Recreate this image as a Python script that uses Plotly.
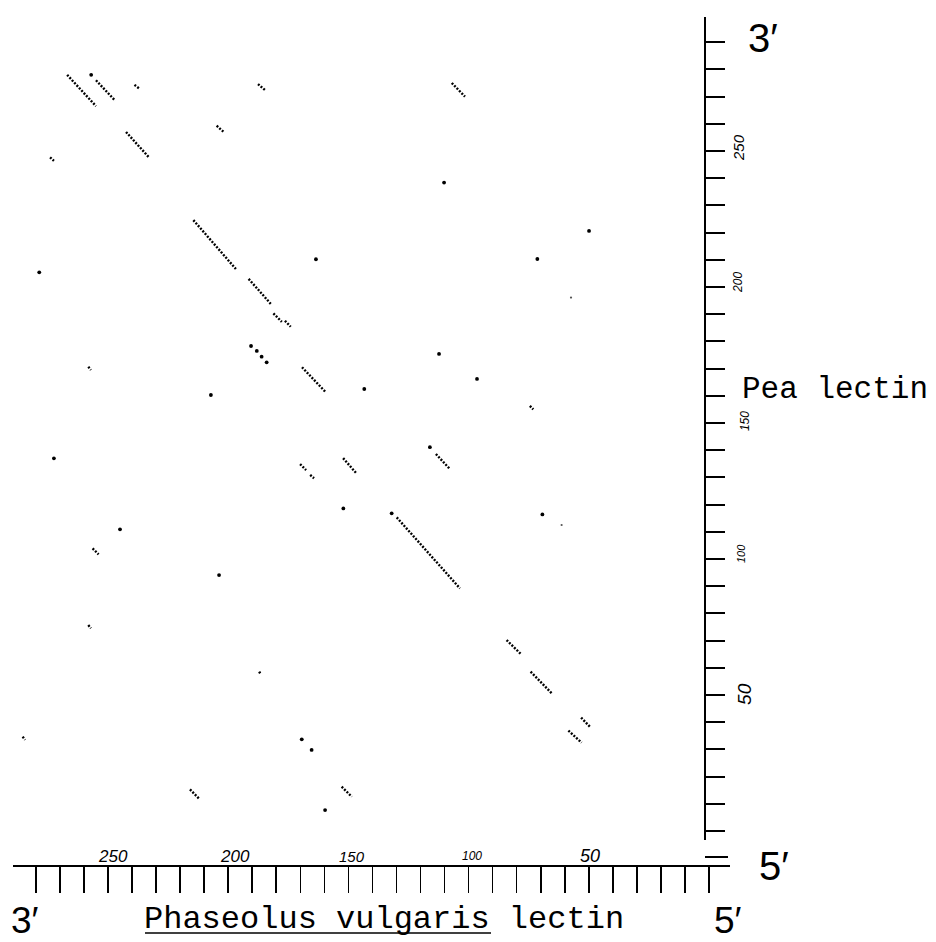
import plotly.graph_objects as go

# ---------------- data (residue numbers) ----------------
# x : Phaseolus vulgaris lectin residue, y : pea lectin residue
# diagonal runs of matching residues: start (x0, y0) -> end (x1, y1)
seg_x0 = [267.0, 255.0, 239.0, 187.6, 107.0, 204.8, 242.5, 274.1, 214.5, 191.5,
          181.2, 176.4, 169.3, 74.5, 113.6, 152.2, 170.1, 165.9, 129.9, 84.2,
          74.2, 53.2, 58.5, 258.2, 256.4, 258.2, 187.1, 285.5, 215.9, 152.8]
seg_y0 = [278.0, 276.0, 274.3, 274.6, 275.0, 259.3, 257.0, 247.7, 224.6, 203.0,
          190.3, 187.6, 170.5, 156.3, 138.6, 137.1, 134.9, 130.9, 115.3, 70.2,
          58.6, 41.7, 36.9, 170.7, 103.9, 75.7, 58.6, 34.7, 15.3, 16.3]
seg_x1 = [255.0, 247.0, 237.0, 184.7, 101.5, 202.0, 233.0, 272.5, 196.8, 182.3,
          177.7, 174.0, 159.4, 73.1, 107.7, 146.7, 167.6, 164.3, 103.6, 78.3,
          65.2, 49.5, 53.0, 257.1, 253.9, 257.1, 186.5, 284.5, 212.0, 148.6]
seg_y1 = [266.5, 268.5, 273.0, 272.4, 270.0, 257.1, 247.7, 246.4, 206.6, 193.8,
          187.2, 185.4, 161.3, 155.0, 133.0, 131.5, 132.7, 129.7, 89.2, 65.1,
          50.4, 38.3, 32.5, 169.5, 101.7, 74.5, 57.6, 33.5, 11.8, 12.6]

# isolated matching residues
dot_x = [257.0, 163.5, 278.6, 190.5, 188.1, 186.1, 184.0, 207.2, 143.4, 112.3,
         96.5, 116.1, 152.1, 132.0, 69.3, 169.4, 165.3, 272.5, 245.0, 203.8,
         159.7, 110.2, 49.9, 71.4]
dot_y = [278.0, 210.2, 205.4, 178.3, 176.5, 174.4, 172.3, 160.3, 162.5, 175.4,
         166.2, 141.1, 118.6, 116.8, 116.4, 33.7, 29.8, 137.0, 110.9, 94.1,
         7.7, 238.4, 220.6, 210.3]
faint_x = [61.3, 57.4]
faint_y = [112.5, 196.1]

# axis ticks and labels
x_ticks = [0, 10, 20, 30, 40, 50, 60, 70, 80, 90, 100, 110, 120, 130, 140, 150,
           160, 170, 180, 190, 200, 210, 220, 230, 240, 250, 260, 270, 280]
y_ticks = [0, 10, 20, 30, 40, 50, 60, 70, 80, 90, 100, 110, 120, 130, 140, 150,
           160, 170, 180, 190, 200, 210, 220, 230, 240, 250, 260, 270, 280, 290]
x_label_text = ["250", "200", "150", "100", "50"]
x_label_pos = [247.9, 197.2, 148.5, 98.6, 49.5]
x_label_size = [17, 17, 15, 12, 18]
y_label_text = ["250", "200", "150", "100", "50"]
y_label_pos = [251.1, 201.5, 150.7, 101.8, 50.4]
y_label_size = [15, 12, 12, 11, 19]
y_label_xpos = [738, 738, 745, 741, 745]

W, H = 936, 942

# build segment polyline with gaps
lx, ly = [], []
for a, b, c, d in zip(seg_x0, seg_y0, seg_x1, seg_y1):
    lx += [a, c, None]
    ly += [b, d, None]

fig = go.Figure()
fig.add_trace(go.Scatter(x=lx, y=ly, mode="lines",
                         line=dict(color="black", width=2.4, dash="2px,1.5px"),
                         hoverinfo="skip"))
fig.add_trace(go.Scatter(x=dot_x, y=dot_y, mode="markers",
                         marker=dict(color="black", size=3.8, line=dict(width=0)),
                         hoverinfo="skip"))
fig.add_trace(go.Scatter(x=faint_x, y=faint_y, mode="markers",
                         marker=dict(color="#555", size=2.2, line=dict(width=0)),
                         hoverinfo="skip"))

# pixel layout helpers (layout only)
def px(xp):
    return xp / W

def py(yp):
    return (H - yp) / H

fig.update_layout(
    width=W, height=H,
    margin=dict(l=0, r=0, t=0, b=0),
    paper_bgcolor="white", plot_bgcolor="white",
    showlegend=False,
    xaxis=dict(domain=[px(13), px(730)],
               range=[(709 - 13) / 2.404, (709 - 730) / 2.404],
               anchor="free", position=py(866), side="bottom",
               showline=True, linecolor="black", linewidth=2,
               ticks="outside", ticklen=26, tickwidth=1.6, tickcolor="black",
               tickvals=x_ticks, showticklabels=False,
               showgrid=False, zeroline=False, fixedrange=True),
    yaxis=dict(domain=[py(840), py(17)],
               range=[(831 - 840) / 2.72, (831 - 17) / 2.72],
               anchor="free", position=px(705), side="right",
               showline=True, linecolor="black", linewidth=2,
               ticks="outside", ticklen=19, tickwidth=2, tickcolor="black",
               tickvals=y_ticks, showticklabels=False,
               showgrid=False, zeroline=False, fixedrange=True),
)

shapes = [
    # "=" mark at the origin
    dict(type="line", xref="paper", yref="paper", x0=px(705), x1=px(728),
         y0=py(857), y1=py(857), line=dict(color="black", width=2)),
    # underline of the species name
    dict(type="line", xref="paper", yref="paper", x0=px(145), x1=px(491),
         y0=py(933), y1=py(933), line=dict(color="black", width=1.6)),
]
fig.update_layout(shapes=shapes)

ann = []
big = "Liberation Sans Narrow, Liberation Sans, Arial, sans-serif"
mono = "Liberation Mono, Courier New, monospace"
ann.append(dict(text="3\u2032", x=px(746), y=py(38), xref="paper", yref="paper",
                xanchor="left", yanchor="middle", showarrow=False,
                font=dict(family=big, size=40, color="black")))
ann.append(dict(text="5\u2032", x=px(757), y=py(866), xref="paper", yref="paper",
                xanchor="left", yanchor="middle", showarrow=False,
                font=dict(family=big, size=40, color="black")))
ann.append(dict(text="5\u2032", x=px(712), y=py(920), xref="paper", yref="paper",
                xanchor="left", yanchor="middle", showarrow=False,
                font=dict(family=big, size=37, color="black")))
ann.append(dict(text="3\u2032", x=px(9), y=py(920), xref="paper", yref="paper",
                xanchor="left", yanchor="middle", showarrow=False,
                font=dict(family=big, size=37, color="black")))
ann.append(dict(text="Phaseolus vulgaris lectin", x=px(384), y=py(919),
                xref="paper", yref="paper", xanchor="center", yanchor="middle",
                showarrow=False, font=dict(family=mono, size=32, color="black")))
ann.append(dict(text="Pea lectin", x=px(740), y=py(389),
                xref="paper", yref="paper", xanchor="left", yanchor="middle",
                showarrow=False, font=dict(family=mono, size=31, color="black")))

for t, p, s in zip(x_label_text, x_label_pos, x_label_size):
    ann.append(dict(text=t, x=p, y=py(856), xref="x", yref="paper",
                    xanchor="center", yanchor="middle", showarrow=False,
                    font=dict(family="Liberation Sans, Arial", size=s,
                              color="black", style="italic")))
for t, p, s, xp in zip(y_label_text, y_label_pos, y_label_size, y_label_xpos):
    ann.append(dict(text=t, x=px(xp), y=p, xref="paper", yref="y",
                    xanchor="center", yanchor="middle", showarrow=False,
                    textangle=-90,
                    font=dict(family="Liberation Sans, Arial", size=s,
                              color="black", style="italic")))
fig.update_layout(annotations=ann)

fig.write_html("out.html",
               config={"displayModeBar": False, "staticPlot": True},
               post_script="document.body.style.margin='0';"
                           "document.body.style.padding='0';"
                           "document.body.style.overflow='hidden';")
